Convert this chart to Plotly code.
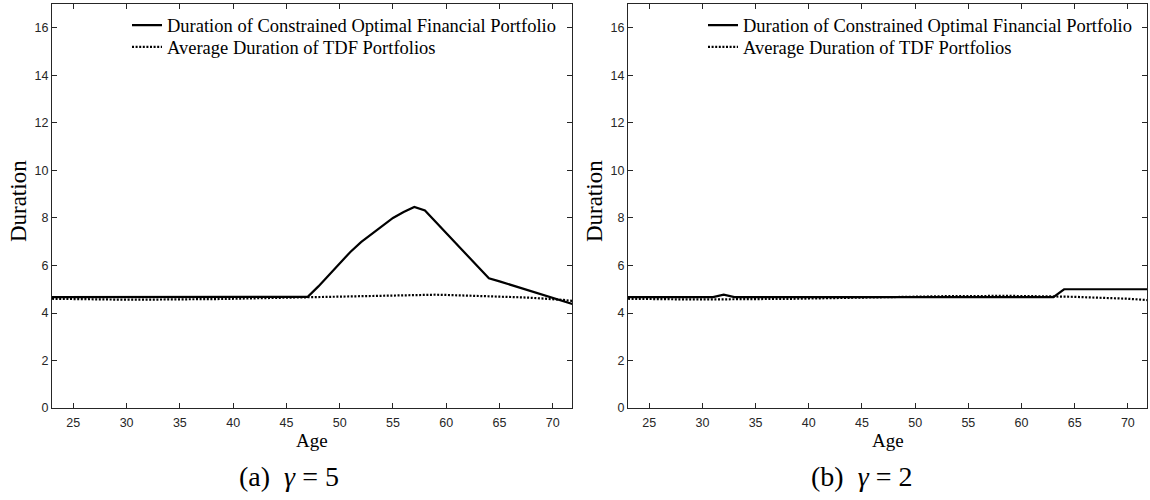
import plotly.graph_objects as go

ages = list(range(23, 73))

# Panel (a) gamma = 5
opt_a = [4.67]*24 + [4.68, 5.12, 5.60, 6.10, 6.57, 6.98, 7.33, 7.68, 8.00, 8.25, 8.46,
                     8.31, 7.84, 7.36, 6.89, 6.41, 5.94, 5.46, 5.33, 5.19, 5.05, 4.91,
                     4.76, 4.62, 4.48, 4.36]
tdf_a = [4.60, 4.59, 4.58, 4.58, 4.57, 4.57, 4.56, 4.56, 4.56, 4.56, 4.57, 4.57, 4.57,
         4.58, 4.58, 4.59, 4.59, 4.60, 4.61, 4.61, 4.62, 4.63, 4.63, 4.64, 4.65, 4.66,
         4.67, 4.68, 4.69, 4.70, 4.71, 4.72, 4.73, 4.74, 4.76, 4.77, 4.77, 4.76, 4.75,
         4.73, 4.71, 4.69, 4.68, 4.67, 4.66, 4.64, 4.62, 4.59, 4.55, 4.50]

# Panel (b) gamma = 2
opt_b = [4.67]*9 + [4.77] + [4.67]*31 + [5.00]*9
tdf_b = [4.60, 4.59, 4.58, 4.58, 4.57, 4.57, 4.57, 4.57, 4.57, 4.57, 4.58, 4.58, 4.58,
         4.59, 4.59, 4.60, 4.60, 4.61, 4.62, 4.62, 4.63, 4.64, 4.65, 4.66, 4.67, 4.67,
         4.68, 4.69, 4.70, 4.70, 4.71, 4.71, 4.72, 4.72, 4.72, 4.72, 4.72, 4.72, 4.72,
         4.71, 4.70, 4.69, 4.68, 4.67, 4.66, 4.64, 4.62, 4.60, 4.57, 4.54]

x_ticks = [25, 30, 35, 40, 45, 50, 55, 60, 65, 70]
y_ticks = [0, 2, 4, 6, 8, 10, 12, 14, 16]
name_opt = "Duration of Constrained Optimal Financial Portfolio"
name_tdf = "Average Duration of TDF Portfolios"
captions = ["(a)\u2002<i>γ</i> = 5", "(b)\u2002<i>γ</i> = 2"]

W, H = 1150, 493
SERIF = "Liberation Serif"
AXC = "#262626"

def py(ypx):
    # convert a pixel row (from top) to paper fraction
    return 1 - ypx / H

fig = go.Figure()
specs = [
    (opt_a, name_opt, "solid", "x", "y", "legend"),
    (tdf_a, name_tdf, "2px,1.6px", "x", "y", "legend2"),
    (opt_b, name_opt, "solid", "x2", "y2", "legend3"),
    (tdf_b, name_tdf, "2px,1.6px", "x2", "y2", "legend4"),
]
for vals, nm, dash, xa, ya, lg in specs:
    fig.add_trace(go.Scatter(x=ages, y=vals, mode="lines", name=nm,
                             line=dict(color="black", width=2.2, dash=dash),
                             xaxis=xa, yaxis=ya, legend=lg))

dom_y = [py(414), py(4)]
dom_x1 = [52/W, 572/W]
dom_x2 = [628/W, 1147/W]

def xax(domain, anchor):
    return dict(domain=domain, anchor=anchor, range=[23, 71.8], tickvals=x_ticks,
                ticks="inside", ticklen=5, tickcolor=AXC, tickwidth=1,
                showline=True, linecolor=AXC, linewidth=1, mirror="ticks",
                showgrid=False, zeroline=False, ticklabelstandoff=3,
                tickfont=dict(family="Liberation Sans", size=12.5, color=AXC))

def yax(anchor):
    return dict(domain=dom_y, anchor=anchor, range=[0, 17], tickvals=y_ticks,
                ticks="inside", ticklen=5, tickcolor=AXC, tickwidth=1,
                showline=True, linecolor=AXC, linewidth=1, mirror="ticks",
                showgrid=False, zeroline=False,
                tickfont=dict(family="Liberation Sans", size=12.5, color=AXC))

def leg(xpx, ypx):
    return dict(x=xpx/W, y=py(ypx), xanchor="left", yanchor="middle",
                bgcolor="rgba(0,0,0,0)", borderwidth=0,
                font=dict(family=SERIF, size=18.5, color="black"),
                tracegroupgap=0, itemwidth=30)

ann = []
for cx, capx, cap in [((52+572)/2, 289, captions[0]), ((628+1147)/2, 862, captions[1])]:
    ann.append(dict(x=cx/W, y=py(447), xref="paper", yref="paper", text="Age",
                    xanchor="center", yanchor="middle",
                    showarrow=False, font=dict(family=SERIF, size=19, color="black")))
    ann.append(dict(x=capx/W, y=py(483), xref="paper", yref="paper", text=cap,
                    xanchor="center", yanchor="middle",
                    showarrow=False, font=dict(family=SERIF, size=28, color="black")))
for lx in [18, 594]:
    ann.append(dict(x=lx/W, y=py(204), xref="paper", yref="paper", text="Duration",
                    xanchor="center", yanchor="middle",
                    textangle=-90, showarrow=False, font=dict(family=SERIF, size=23, color="black")))

fig.update_layout(
    width=W, height=H, margin=dict(l=0, r=0, t=0, b=0),
    paper_bgcolor="white", plot_bgcolor="white",
    xaxis=xax(dom_x1, "y"), yaxis=yax("x"),
    xaxis2=xax(dom_x2, "y2"), yaxis2=yax("x2"),
    legend=leg(127, 26), legend2=leg(127, 48),
    legend3=leg(703, 26), legend4=leg(703, 48),
    showlegend=True, annotations=ann,
)

fig.write_html("out.html")
